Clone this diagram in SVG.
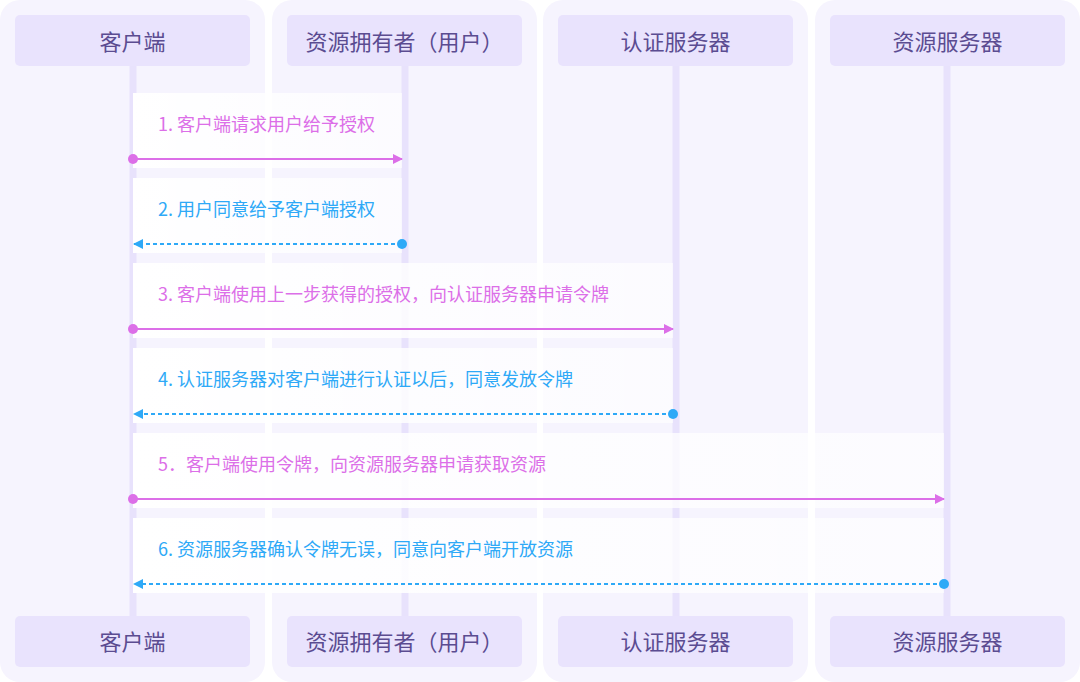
<svg xmlns="http://www.w3.org/2000/svg" width="1080" height="682" viewBox="0 0 1080 682">
<style>
.col{fill:#f6f4fe}
.hd{fill:#e9e3fd}
.life{stroke:#e8e2fc;stroke-width:7}
.ht{font-family:"Noto Sans CJK SC","Noto Sans",sans-serif;font-size:22px;font-weight:400;fill:#5b4c91;text-anchor:middle;dominant-baseline:central}
.mt{font-family:"Noto Sans CJK SC","Noto Sans",sans-serif;font-size:18px;dominant-baseline:central}
.pk{fill:#dc6fe8}
.bl{fill:#2ea9f7}
.lp{stroke:#dc6fe8;stroke-width:2;fill:none}
.lb{stroke:#2ea9f7;stroke-width:2;fill:none;stroke-dasharray:4 3}
.box{fill:url(#wg)}
</style>
<defs>
<linearGradient id="wg" x1="0" y1="0" x2="1" y2="0">
<stop offset="0" stop-color="#ffffff" stop-opacity="1"/>
<stop offset="1" stop-color="#ffffff" stop-opacity="0.65"/>
</linearGradient>
<marker id="ap" markerWidth="10" markerHeight="10" refX="9" refY="5" orient="auto" markerUnits="userSpaceOnUse">
<path d="M0,0 L10,5 L0,10 Z" fill="#dc6fe8"/>
</marker>
<marker id="ab" markerWidth="10" markerHeight="10" refX="9" refY="5" orient="auto" markerUnits="userSpaceOnUse">
<path d="M0,0 L10,5 L0,10 Z" fill="#2ea9f7"/>
</marker>
</defs>
<rect width="1080" height="682" fill="#ffffff"/>
<g id="columns">
<rect class="col" x="0" y="0" width="265" height="682" rx="20"/>
<rect class="col" x="272" y="0" width="265" height="682" rx="20"/>
<rect class="col" x="543" y="0" width="265" height="682" rx="20"/>
<rect class="col" x="815" y="0" width="265" height="682" rx="20"/>
</g>
<g id="lifelines">
<line class="life" x1="133" y1="66" x2="133" y2="616"/>
<line class="life" x1="405" y1="66" x2="405" y2="616"/>
<line class="life" x1="676" y1="66" x2="676" y2="616"/>
<line class="life" x1="947" y1="66" x2="947" y2="616"/>
</g>
<g id="node-client">
<rect class="hd" x="15" y="15" width="235" height="51" rx="5"/>
<text class="ht" x="132.5" y="40">客户端</text>
</g>
<g id="node-owner">
<rect class="hd" x="287" y="15" width="235" height="51" rx="5"/>
<text class="ht" x="404.5" y="40">资源拥有者（用户）</text>
</g>
<g id="node-auth">
<rect class="hd" x="558" y="15" width="235" height="51" rx="5"/>
<text class="ht" x="675.5" y="40">认证服务器</text>
</g>
<g id="node-resource">
<rect class="hd" x="830" y="15" width="235" height="51" rx="5"/>
<text class="ht" x="947.5" y="40">资源服务器</text>
</g>
<g id="node-client-bottom">
<rect class="hd" x="15" y="616" width="235" height="51" rx="5"/>
<text class="ht" x="132.5" y="640">客户端</text>
</g>
<g id="node-owner-bottom">
<rect class="hd" x="287" y="616" width="235" height="51" rx="5"/>
<text class="ht" x="404.5" y="640">资源拥有者（用户）</text>
</g>
<g id="node-auth-bottom">
<rect class="hd" x="558" y="616" width="235" height="51" rx="5"/>
<text class="ht" x="675.5" y="640">认证服务器</text>
</g>
<g id="node-resource-bottom">
<rect class="hd" x="830" y="616" width="235" height="51" rx="5"/>
<text class="ht" x="947.5" y="640">资源服务器</text>
</g>
<g id="connectors">
<rect class="box" x="133" y="93" width="269" height="75"/>
<text class="mt pk" x="158" y="123">1. 客户端请求用户给予授权</text>
<line class="lp" x1="133" y1="159" x2="402" y2="159" marker-end="url(#ap)"/>
<circle cx="133" cy="159" r="5" fill="#dc6fe8"/>

<rect class="box" x="133" y="178" width="269" height="75"/>
<text class="mt bl" x="158" y="208">2. 用户同意给予客户端授权</text>
<line class="lb" x1="402" y1="244" x2="134" y2="244" marker-end="url(#ab)"/>
<circle cx="402" cy="244" r="5" fill="#2ea9f7"/>

<rect class="box" x="133" y="263" width="540" height="75"/>
<text class="mt pk" x="158" y="293">3. 客户端使用上一步获得的授权，向认证服务器申请令牌</text>
<line class="lp" x1="133" y1="329" x2="673" y2="329" marker-end="url(#ap)"/>
<circle cx="133" cy="329" r="5" fill="#dc6fe8"/>

<rect class="box" x="133" y="348" width="540" height="75"/>
<text class="mt bl" x="158" y="378">4. 认证服务器对客户端进行认证以后，同意发放令牌</text>
<line class="lb" x1="673" y1="414" x2="134" y2="414" marker-end="url(#ab)"/>
<circle cx="673" cy="414" r="5" fill="#2ea9f7"/>

<rect class="box" x="133" y="433" width="811" height="75"/>
<text class="mt pk" x="158" y="463">5．客户端使用令牌，向资源服务器申请获取资源</text>
<line class="lp" x1="133" y1="499" x2="944" y2="499" marker-end="url(#ap)"/>
<circle cx="133" cy="499" r="5" fill="#dc6fe8"/>

<rect class="box" x="133" y="518" width="811" height="75"/>
<text class="mt bl" x="158" y="548">6. 资源服务器确认令牌无误，同意向客户端开放资源</text>
<line class="lb" x1="944" y1="584" x2="134" y2="584" marker-end="url(#ab)"/>
<circle cx="944" cy="584" r="5" fill="#2ea9f7"/>
</g>
</svg>
